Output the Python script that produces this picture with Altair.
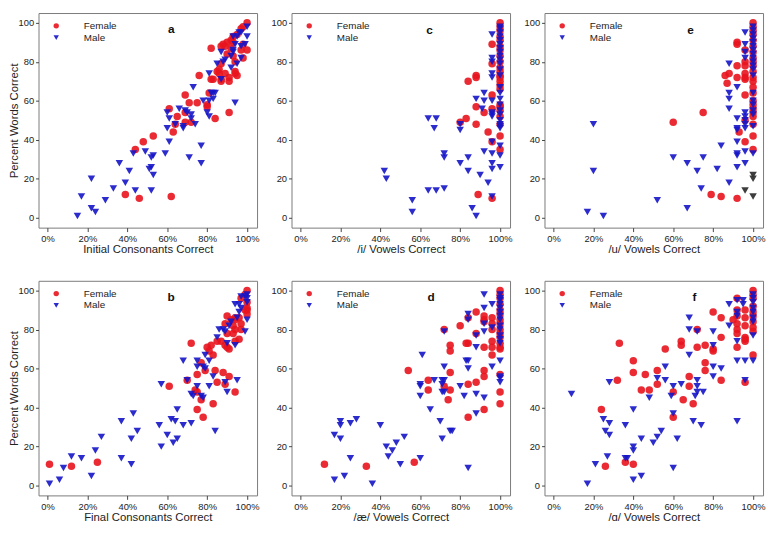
import altair as alt
import pandas as pd

RED = "#e8141e"
BLUE = "#1515c8"
DARK = "#333333"
FONT = "Liberation Sans"

# ---------------- data (x = % correct on measure, y = percent words correct) -------------
a_female = [(100,100),(98,98),(97,97),(95,94),(93,93),(92,91),(90,90),(88,89),(87,88),(89,88),
            (93,90),(92,87),(100,86),(98,89),(97,86),(82,87),(90,84),(93,83),(98,82),(94,80),
            (87,79),(86,76),(85,75),(86,74),(89,74),(94,74),(95,73),(94,75),(91,72),(91,70),
            (87,70),(87,71),(83,71),(82,71),(76,73),(69,63),(81,64),(80,58),(80,57),(75,59),
            (71,59),(61,56),(65,52),(69,54),(84,51),(91,54),(69,49),(72,49),(64,48),(63,44),
            (53,42),(48,39),(44,35),(39,12),(46,10),(62,11)]
a_male = [(100,98),(100,93),(97,95),(96,95),(95,93),(93,93),(94,89),(97,88),(99,89),(93,86),
          (92,83),(93,85),(89,81),(87,85),(97,82),(95,79),(92,77),(88,80),(85,79),(87,71),
          (81,74),(94,59),(73,67),(82,64),(83,64),(84,64),(78,60),(81,60),(83,61),(80,54),
          (81,52),(72,53),(69,55),(70,54),(66,56),(60,54),(61,51),(60,46),(64,48),(68,47),
          (68,46),(74,48),(72,51),(77,37),(71,31),(77,28),(61,39),(59,33),(49,34),(43,33),
          (53,32),(52,31),(51,25),(52,26),(53,22),(36,28),(41,24),(39,18),(44,14),(52,14),
          (33,15),(22,20),(29,9),(17,11),(22,5),(24,3),(15,1)]

b_female = [(100,100),(99,98),(97,96),(100,94),(100,91),(100,90),(100,88),(99,90),(96,86),(94,86),
            (90,87),(92,85),(94,85),(89,83),(93,82),(97,83),(97,80),(94,80),(90,78),(93,78),
            (96,75),(94,74),(85,74),(87,74),(89,72),(90,71),(91,70),(82,72),(80,71),(81,69),
            (83,67),(72,73),(77,63),(79,59),(84,59),(88,58),(85,53),(89,52),(91,56),(94,48),
            (70,54),(74,49),(75,48),(77,44),(75,39),(78,35),(83,42),(75,57),(61,51),(25,12),
            (12,10),(1,11)]
b_male = [(100,98),(99,97),(97,97),(96,93),(94,93),(97,91),(100,94),(100,96),(96,89),(95,86),
          (100,85),(99,79),(91,82),(92,84),(89,79),(88,80),(86,80),(85,76),(94,72),(90,73),
          (79,67),(81,64),(68,64),(75,64),(75,61),(78,61),(79,60),(83,56),(81,51),(89,53),
          (90,48),(95,54),(70,54),(75,51),(72,47),(73,46),(77,46),(78,45),(57,52),(65,39),
          (72,32),(68,31),(62,34),(64,33),(56,31),(84,28),(60,26),(65,24),(63,22),(57,20),
          (43,37),(37,33),(45,28),(42,24),(27,25),(24,18),(37,14),(42,11),(17,14),(12,15),
          (8,9),(22,5),(6,3),(1,1)]

c_female = [(100,100),(100,98),(100,96),(100,93),(100,91),(100,88),(100,86),(100,83),(100,80),
            (100,77),(100,75),(100,73),(100,72),(100,70),(100,68),(100,66),(100,58),(100,57),
            (100,55),(100,52),(100,48),(100,42),(100,35),
            (96,89),(96,79),(96,63),(96,56),(96,39),(96,10),
            (94,44),(92,54),(88,73),(88,72),(84,70),(88,57),(88,48),(80,49),(83,51),(89,12)]
c_male = [(100,98),(100,97),(100,95),(100,93),(100,91),(100,89),(100,87),(100,85),(100,83),
          (100,81),(100,79),(100,76),(100,73),(100,67),(100,64),(100,61),(100,58),(100,55),
          (100,53),(100,50),(100,48),(100,47),(100,46),(100,37),(100,32),(100,26),
          (96,94),(96,82),(96,80),(96,74),(96,72),(96,60),(96,54),(96,53),(96,52),(96,39),
          (96,33),(96,28),(96,25),(96,11),
          (92,64),(92,60),(91,56),(88,61),(80,48),(80,45),(64,51),(68,51),(67,46),(72,33),
          (72,31),(80,28),(84,31),(84,24),(92,34),(90,22),(94,18),(42,24),(43,20),(56,9),
          (56,3),(64,14),(68,14),(72,15),(86,5),(88,1)]

d_female = [(100,100),(100,98),(100,96),(100,93),(100,90),(100,88),(100,85),(100,83),(100,80),
            (100,78),(100,76),(100,73),(100,71),(100,70),(100,57),(100,48),(100,42),
            (96,86),(96,83),(96,80),(96,74),(96,71),(96,67),
            (92,87),(92,85),(92,84),(92,71),(92,59),(92,56),(92,39),
            (88,89),(88,78),(80,82),(84,73),(83,73),(84,52),(84,35),(88,53),(84,86),(72,80),
            (75,72),(75,69),(75,58),(75,49),(74,44),(72,51),(64,54),(64,49),(54,59),(57,12),
            (33,10),(12,11)]
d_male = [(100,98),(100,96),(100,95),(100,93),(100,91),(100,89),(100,87),(100,85),(100,82),
          (100,80),(100,77),(100,75),(100,73),(100,64),(100,56),(100,55),(100,53),
          (92,98),(92,91),(96,93),(96,81),(96,61),(92,83),(92,79),(88,77),(88,71),(84,88),
          (84,85),(84,64),(83,64),(84,60),(72,79),(72,61),(71,54),(72,54),(71,52),(71,48),
          (72,48),(61,67),(60,52),(60,51),(60,46),(67,54),(80,51),(82,46),(88,47),(92,45),
          (88,37),(65,39),(70,33),(75,28),(76,28),(71,24),(84,9),(60,14),(52,25),(48,22),
          (46,18),(43,20),(44,15),(40,31),(50,11),(36,1),(28,34),(25,32),(20,33),(20,31),
          (20,24),(17,26),(25,14),(22,5),(17,3)]

e_female = [(100,100),(100,98),(100,96),(100,94),(100,91),(100,88),(100,85),(100,82),(100,80),
            (100,78),(100,75),(100,72),(100,70),(100,67),(100,64),(100,60),(100,58),(100,56),
            (100,54),(100,52),(100,48),(100,42),(100,35),
            (96,86),(96,80),(96,78),(96,74),(96,72),(96,71),(96,63),(96,50),(96,39),
            (92,90),(92,89),(92,78),(92,72),
            (93,44),(86,73),(88,74),(87,69),(75,54),(60,49),(79,12),(84,11),(92,10)]
e_male = [(100,98),(100,96),(100,94),(100,92),(100,90),(100,88),(100,86),(100,84),(100,82),
          (100,80),(100,78),(100,76),(100,73),(100,64),(100,60),(100,58),(100,55),(100,53),
          (100,47),(100,33),
          (96,95),(96,89),(96,85),(96,82),(96,54),(96,52),(96,50),(96,48),(96,46),(96,34),(96,28),
          (92,67),(92,51),(92,46),(92,45),(92,39),(92,33),(92,32),(92,26),
          (88,79),(88,64),(88,61),(88,56),(88,18),(84,37),(82,25),(75,31),(72,24),(67,28),
          (60,31),(74,15),(67,5),(52,9),(20,48),(20,24),(17,3),(25,1)]
e_other = [(100,22),(100,20),(100,11),(96,14)]

f_female = [(100,100),(100,98),(100,96),(100,92),(100,89),(100,87),(100,84),(100,81),(100,79),
            (100,67),
            (96,90),(96,86),(96,82),(96,76),(96,75),(96,74),(96,53),
            (92,96),(92,90),(92,87),(92,83),(92,80),(92,78),(92,71),
            (90,85),(84,86),(80,89),(80,70),(80,69),(84,76),(84,54),(76,72),(76,63),(76,59),
            (72,71),(72,80),(68,56),(68,51),(70,42),(65,44),(64,74),(64,72),(56,70),(60,48),
            (60,35),(52,59),(52,52),(48,49),(44,49),(46,57),(40,64),(40,58),(33,73),(32,54),
            (24,39),(26,10),(36,12),(40,11)]
f_male = [(100,98),(100,96),(100,94),(100,91),(100,89),(100,86),(100,84),(100,77),(100,64),
          (95,95),(95,93),(92,95),(92,89),(92,87),(92,74),(92,64),(96,64),(96,54),(92,33),
          (88,82),(88,93),(80,79),(80,72),(80,61),(80,56),(84,60),(68,86),(68,80),(68,67),
          (72,79),(72,54),(72,51),(72,48),(71,46),(75,48),(70,33),(74,31),(64,52),(60,51),
          (60,37),(59,46),(56,61),(56,54),(52,55),(48,45),(62,24),(54,28),(52,25),(50,22),
          (60,9),(44,24),(44,5),(40,39),(40,20),(40,18),(40,3),(36,31),(36,14),(37,14),
          (28,26),(28,32),(28,53),(26,28),(25,34),(27,15),(21,11),(17,1),(9,47)]

groups = ["Female", "Male"]
x_ticks = [0, 20, 40, 60, 80, 100]
y_ticks = [0, 20, 40, 60, 80, 100]
y_title = "Percent Words Correct"

# letter, x-axis title, female, male, other, letter position (data units), show y title
panels = [
    ("a", "Initial Consonants Correct", a_female, a_male, [], 62, 96.7, True),
    ("c", "/i/ Vowels Correct", c_female, c_male, [], 64.7, 96.4, False),
    ("e", "/u/ Vowels Correct", e_female, e_male, e_other, 68.7, 96.4, False),
    ("b", "Final Consonants Correct", b_female, b_male, [], 61.9, 96.5, True),
    ("d", "/æ/ Vowels Correct", d_female, d_male, [], 65.5, 96.5, False),
    ("f", "/ɑ/ Vowels Correct", f_female, f_male, [], 70.6, 96.5, False),
]

W, H = 222, 218


def make_panel(letter, xtitle, fem, male, other, lx, ly, ytitle_on):
    rows = [{"x": x, "y": y, "sex": "Female"} for x, y in fem] + \
           [{"x": x, "y": y, "sex": "Male"} for x, y in male]
    df = pd.DataFrame(rows)
    xs = alt.Scale(domain=[-4.5, 105], nice=False, zero=False)
    ys = alt.Scale(domain=[-5, 105], nice=False, zero=False)
    xaxis = alt.Axis(values=x_ticks, labelExpr="datum.value + '%'", title=xtitle,
                     grid=False, domain=False, tickSize=4, labelPadding=2, titlePadding=1)
    yaxis = alt.Axis(values=y_ticks, title=(y_title if ytitle_on else ""),
                     grid=False, domain=False, tickSize=3, labelPadding=2, titlePadding=-2)
    xe = alt.X("x:Q", scale=xs, axis=xaxis)
    ye = alt.Y("y:Q", scale=ys, axis=yaxis)
    leg = alt.Legend(orient="none", legendX=13, legendY=8, title=None, symbolSize=30,
                     labelFontSize=10, labelFont=FONT, labelColor="#222", labelOffset=23,
                     rowPadding=2, symbolStrokeWidth=0)
    pts = alt.Chart(df).mark_point(filled=True, size=58, opacity=0.9).encode(
        x=xe, y=ye,
        color=alt.Color("sex:N", scale=alt.Scale(domain=groups, range=[RED, BLUE]), legend=leg),
        shape=alt.Shape("sex:N", scale=alt.Scale(domain=groups, range=["circle", "triangle-down"]),
                        legend=leg),
    )
    layers = [pts]
    if other:
        odf = pd.DataFrame([{"x": x, "y": y} for x, y in other])
        layers.append(alt.Chart(odf).mark_point(filled=True, size=58, opacity=0.95,
                                                shape="triangle-down", color=DARK).encode(x=xe, y=ye))
    tdf = pd.DataFrame([{"x": lx, "y": ly, "t": letter}])
    layers.append(alt.Chart(tdf).mark_text(font=FONT, fontSize=12, fontWeight="bold",
                                           color="#111").encode(x=xe, y=ye, text="t:N"))
    return alt.layer(*layers).properties(width=W, height=H)


charts = [make_panel(*p) for p in panels]

chart = alt.concat(*charts, columns=3, spacing={"row": 54, "column": 35}, bounds="flush").resolve_scale(
    color="independent", shape="independent"
).resolve_legend(color="independent", shape="independent").properties(
    padding={"left": 0, "top": 0, "right": 0, "bottom": 0}
).configure_view(stroke="#7a7a7a", strokeWidth=1).configure_axis(
    labelFont=FONT, labelFontSize=9.5, labelColor="#222", titleFont=FONT, titleFontSize=11.5,
    titleFontWeight="normal", titleColor="#222", tickColor="#444"
)

chart.save("out.html", embed_options={"renderer": "svg", "actions": False})
